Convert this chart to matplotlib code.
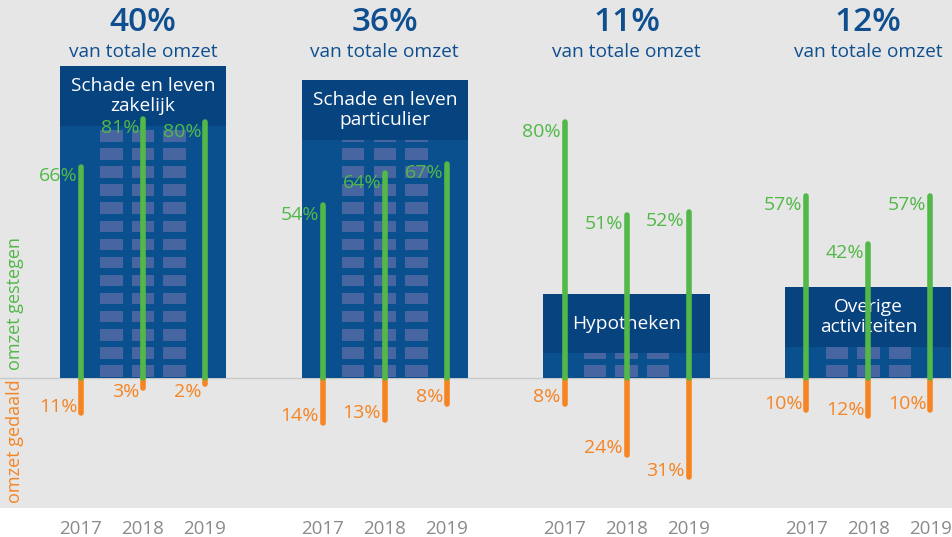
import numpy as np
import matplotlib
matplotlib.use('Agg')
import matplotlib.pyplot as plt
from matplotlib.patches import Rectangle

plt.rcParams['font.family'] = ['Open Sans', 'DejaVu Sans']

# data
groups = ['Schade en leven\nzakelijk', 'Schade en leven\nparticulier', 'Hypotheken', 'Overige\nactiviteiten']
share = ['40%', '36%', '11%', '12%']
years = ['2017', '2018', '2019']
gestegen = [[66, 81, 80], [54, 64, 67], [80, 51, 52], [57, 42, 57]]
gedaald = [[11, 3, 2], [14, 13, 8], [8, 24, 31], [10, 12, 10]]

# decoratieve gebouwen (hoogte in % schaal)
building_top = [97.5, 93.1, 26.3, 28.4]
header_h = 18.6

BG = '#e6e6e6'
HEAD = '#07437f'
BODY = '#0a4f8e'
WIN = '#4766a1'
BLUE = '#0f4f8f'
GREEN = '#52b848'
ORANGE = '#f68423'
GREY = '#8a8a8a'

fig = plt.figure(figsize=(9.53, 5.37), dpi=100)
ax = fig.add_axes([0, 29 / 537, 1, 508 / 537])
ax.set_facecolor(BG)
ax.set_xlim(-1.306, 14.065)
ax.set_ylim(-40.625, 118.125)
for s in ax.spines.values():
    s.set_visible(False)
ax.set_yticks([])

step = 3.9
xpos = []
ax.axhline(0, color='#c9c9c9', lw=1, zorder=1)

for g in range(4):
    x0 = g * step
    top = building_top[g]
    hb = top - header_h
    # gebouw
    ax.add_patch(Rectangle((x0 - 0.34, 0), 2.68, top, color=BODY, lw=0, zorder=2))
    k = 0
    while k * 5.65 + 0.4 < hb:
        yb = k * 5.65 + 0.4
        hh = min(3.6, hb - yb)
        for c in [0.49, 1.0, 1.51]:
            ax.add_patch(Rectangle((x0 + c - 0.18, yb), 0.36, hh, color=WIN, lw=0, zorder=3))
        k += 1
    ax.add_patch(Rectangle((x0 - 0.34, hb), 2.68, header_h, color=HEAD, lw=0, zorder=4))
    ax.text(x0 + 1, hb + header_h / 2, groups[g], color='white', fontsize=13.8,
            ha='center', va='center', linespacing=1.15, zorder=5)
    # titel
    ax.text(x0 + 1, 111.0, share[g], color=BLUE, fontsize=24, fontweight='semibold',
            ha='center', va='center')
    ax.text(x0 + 1, 101.8, 'van totale omzet', color=BLUE, fontsize=13.8,
            ha='center', va='center')
    for j in range(3):
        x = x0 + j
        xpos.append(x)
        up = gestegen[g][j]
        dn = gedaald[g][j]
        ax.plot([x, x], [0, -dn], color=ORANGE, lw=4, solid_capstyle='round', zorder=6)
        ax.plot([x, x], [0, up], color=GREEN, lw=4, solid_capstyle='round', zorder=7)
        ax.text(x - 0.06, up - 3.0, '%d%%' % up, color=GREEN, fontsize=14,
                ha='right', va='center', zorder=8)
        ax.text(x - 0.06, -max(dn - 2, 4.5), '%d%%' % dn, color=ORANGE, fontsize=14,
                ha='right', va='center', zorder=8)

ax.set_xticks(xpos)
ax.set_xticklabels(years * 4, color=GREY, fontsize=13.5)
ax.tick_params(axis='x', length=0, pad=9)

ax.text(-1.06, 23.4, 'omzet gestegen', color=GREEN, rotation=90, fontsize=13,
        ha='center', va='center')
ax.text(-1.06, -19.7, 'omzet gedaald', color=ORANGE, rotation=90, fontsize=13,
        ha='center', va='center')

fig.savefig('out.png', dpi=100, facecolor='white')
